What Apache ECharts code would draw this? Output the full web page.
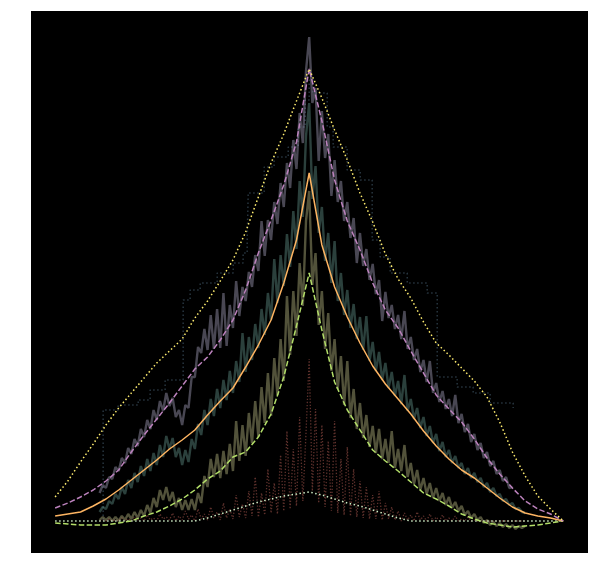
<!DOCTYPE html>
<html><head><meta charset="utf-8">
<script src="https://cdn.jsdelivr.net/npm/echarts@6/dist/echarts.min.js"></script>
<style>html,body{margin:0;padding:0;background:#fff}#c{width:598px;height:578px}</style>
</head><body><div id="c"></div>
<script>
// x positions of the smooth curves
const xLine = [-20,-19,-18,-17,-16,-15,-14,-13,-12,-11,-10,-9,-8,-7,-6,-5,-4,-3,-2,-1,0,1,2,3,4,5,6,7,8,9,10,11,12,13,14,15,16,17,18,19,20];
const yellowDotted = [24,40,59,77,96,113,128,143,158,170,182,203,220,240,261,289,324,358,387,420,452,423,391,361,328,299,267,242,223,199,178,166,153,140,124,99,69,45,25,12,0];
const purpleDashed = [13,18,24,31,40,51,69,86,102,118,135,152,164,181,201,231,268,301,336,379,452,400,341,300,271,238,211,193,170,148,126,112,99,82,63,47,33,20,12,7,0];
const orangeSolid = [5,7,9,15,22,31,41,51,61,72,81,91,106,120,133,154,176,201,238,281,348,276,234,204,178,155,137,122,107,90,75,62,51,43,33,23,14,8,5,3,0];
const greenDashed = [-2,-3,-4,-4,-4,-2,0,5,9,15,22,31,42,50,64,69,84,107,144,195,248,191,139,111,91,71,60,50,39,28,22,15,7,2,-2,-4,-6,-5,-4,-2,0];
const whiteDotted = [0,0,0,0,0,0,0,0,0,0,0,0,3,7,11,15,19,22,25,27,29,26,22,18,15,11,7,3,0,0,0,0,0,0,0,0,0,0,0,0,0];

// x positions of the noisy traces
const xNoise = [-16.5,-16.25,-16,-15.75,-15.5,-15.25,-15,-14.75,-14.5,-14.25,-14,-13.75,-13.5,-13.25,-13,-12.75,-12.5,-12.25,-12,-11.75,-11.5,-11.25,-11,-10.75,-10.5,-10.25,-10,-9.75,-9.5,-9.25,-9,-8.75,-8.5,-8.25,-8,-7.75,-7.5,-7.25,-7,-6.75,-6.5,-6.25,-6,-5.75,-5.5,-5.25,-5,-4.75,-4.5,-4.25,-4,-3.75,-3.5,-3.25,-3,-2.75,-2.5,-2.25,-2,-1.75,-1.5,-1.25,-1,-0.75,-0.5,-0.25,0,0.25,0.5,0.75,1,1.25,1.5,1.75,2,2.25,2.5,2.75,3,3.25,3.5,3.75,4,4.25,4.5,4.75,5,5.25,5.5,5.75,6,6.25,6.5,6.75,7,7.25,7.5,7.75,8,8.25,8.5,8.75,9,9.25,9.5,9.75,10,10.25,10.5,10.75,11,11.25,11.5,11.75,12,12.25,12.5,12.75,13,13.25,13.5,13.75,14,14.25,14.5,14.75,15,15.25,15.5,15.75,16,16.25,16.5,16.75,17];
const grayNoise = [28,36,33,44,42,54,50,63,58,73,67,82,75,92,84,101,92,111,101,120,110,128,115,123,104,111,96,116,113,144,144,174,168,192,171,206,172,212,173,228,175,216,193,240,205,234,220,249,234,266,250,300,265,301,281,319,297,338,314,358,333,381,352,408,378,450,484,418,433,360,410,363,387,325,361,319,340,300,319,283,303,258,288,255,272,241,257,227,241,200,229,203,216,192,206,182,210,172,184,161,172,149,161,139,160,128,138,119,130,112,122,105,126,98,107,89,97,79,87,71,78,63,69,55,60,47,51,40,44,33,34,null,null,null,null];
const tealNoise = [9,14,12,20,17,27,22,34,27,41,33,48,39,55,45,62,50,68,56,76,64,85,72,83,64,73,56,71,59,82,72,97,86,111,96,122,105,132,113,141,121,150,128,160,139,188,149,184,161,197,173,212,186,228,201,262,218,266,235,287,254,310,272,340,304,385,418,322,355,288,314,260,288,238,280,220,248,206,231,193,217,182,204,171,205,160,179,150,169,141,158,133,149,125,140,117,146,110,122,102,113,93,104,85,95,78,87,70,79,64,71,58,65,53,58,47,53,43,48,39,43,34,38,29,33,25,27,20,22,16,18,12,13,9,8];
const oliveNoise = [1,4,1,4,0,4,0,5,1,7,2,9,3,11,5,16,8,23,14,31,21,34,20,29,14,23,11,21,11,22,11,28,18,45,34,62,44,67,43,70,47,77,50,100,60,96,65,108,78,120,84,134,98,148,105,163,126,182,140,225,166,230,185,258,215,300,330,236,268,196,230,172,208,150,182,132,165,116,160,103,132,92,118,83,106,74,95,68,92,62,82,58,90,53,72,50,76,44,58,37,51,31,43,27,38,23,33,20,28,16,24,13,19,10,15,6,10,3,7,1,4,-2,1,-4,-1,-5,-2,-6,-3,-7,-4,-8,-5,-7,-5];
const redNoise = [0,1,0,2,0,1,0,3,0,2,0,4,1,3,0,6,1,3,0,7,2,4,1,8,0,5,1,10,2,6,0,12,2,7,1,14,3,9,1,18,3,12,2,26,4,17,3,30,5,44,4,28,6,52,8,38,7,66,10,90,12,72,15,104,20,88,162,30,112,18,96,14,80,10,100,8,62,6,74,5,52,4,40,3,34,2,26,2,30,1,18,2,14,1,10,0,8,1,6,0,9,1,5,0,7,0,4,0,6,0,3,0,5,0,2,0,4,0,1,0,0,0,0,0,0,0,0,0,0,0,0,0,0,0,0];

// step trace
const stepX = [-16.22,-16.22,-15.04,-13.46,-12.52,-11.34,-9.92,-9.37,-8.58,-7.24,-5.98,-5.2,-4.88,-4.8,-3.54,-2.76,-1.65,-0.87,-0.31,0,0.31,1.42,1.89,2.99,4.02,4.96,5.59,6.38,7.72,9.29,10.08,11.65,12.91,14.25,16.06];
const stepY = [1,111,116,121,131,141,221,231,238,248,258,268,281,328,354,364,374,394,421,441,428,394,374,351,341,281,264,248,238,228,144,134,128,118,113];

const pairs = (xs, ys) => xs.map((x, i) => [x, ys[i]]);
const line = (xs, ys, color, width, type, extra) => Object.assign({
  type: 'line', data: pairs(xs, ys), showSymbol: false, symbol: 'none', silent: true,
  lineStyle: { color: color, width: width, type: type }
}, extra || {});

const chart = echarts.init(document.getElementById('c'), null, { renderer: 'canvas' });
chart.setOption({
  animation: false,
  backgroundColor: '#ffffff',
  grid: { left: 31, right: 10, top: 11, bottom: 25, show: true, backgroundColor: '#000000', borderWidth: 0 },
  xAxis: { type: 'value', min: -21.9, max: 21.95, show: false },
  yAxis: { type: 'value', min: -32, max: 510, show: false },
  series: [
    line(stepX, stepY, 'rgba(129,177,210,0.3)', 1.5, [1.5, 2.5], { step: 'end' }),
    line(xNoise, grayNoise, 'rgba(191,187,217,0.38)', 2.4, 'solid'),
    line(xNoise, tealNoise, 'rgba(141,211,199,0.3)', 2.4, 'solid'),
    line(xNoise, oliveNoise, 'rgba(254,255,179,0.32)', 2.4, 'solid'),
    line(xNoise, redNoise, 'rgba(250,129,116,0.38)', 1.3, [1.3, 1.8]),
    line(xLine, whiteDotted, '#ccebc4', 1.5, [1.5, 2.5]),
    line(xLine, greenDashed, '#b3de69', 1.5, [5.5, 2.4]),
    line(xLine, orangeSolid, '#fdb462', 1.5, 'solid'),
    line(xLine, purpleDashed, '#bc82bd', 1.5, [5.5, 2.4]),
    line(xLine, yellowDotted, '#ffed6f', 1.5, [1.5, 2.5])
  ]
});
</script></body></html>
